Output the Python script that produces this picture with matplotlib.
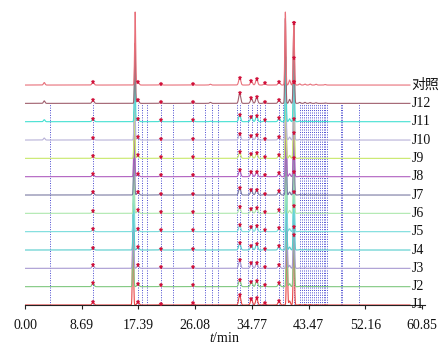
import numpy as np
import matplotlib
matplotlib.use("Agg")
import matplotlib.pyplot as plt

plt.rcParams['font.family'] = ['Liberation Serif', 'Noto Sans CJK SC']
plt.rcParams['mathtext.fontset'] = 'custom'
plt.rcParams['mathtext.rm'] = 'Liberation Serif'
plt.rcParams['mathtext.it'] = 'Liberation Serif:italic'

# Samples, bottom to top
labels = ['J1', 'J2', 'J3', 'J4', 'J5', 'J6', 'J7', 'J8', 'J9', 'J10', 'J11', 'J12', '对照']
colors = ['#e84545', '#80c880', '#a89ad2', '#55cccc', '#78dcdc', '#aee8ae',
          '#7a7aa2', '#b060c0', '#c8e86a', '#b8b2d8', '#44e0d2', '#a0606e', '#e8707a']

# Common (marked) peaks: retention time (min) and height per sample
marked_rt = [10.42, 17.32, 20.80, 25.75, 32.90, 34.70, 35.50, 36.75, 38.93, 41.20]
marked_heights = [
    [3.0, 3.5, 1.5, 2.0, 10.0, 6.0, 7.0, 2.0, 4.0, 70],
    [4.0, 3.0, 1.5, 1.5, 7.0, 5.0, 6.0, 1.5, 3.5, 60],
    [3.0, 3.0, 1.5, 1.5, 8.0, 5.0, 5.5, 1.5, 3.5, 62],
    [2.5, 3.0, 1.5, 1.5, 7.0, 4.5, 6.0, 1.5, 4.0, 58],
    [2.5, 3.0, 1.5, 1.5, 6.5, 4.5, 5.5, 1.5, 3.5, 60],
    [2.5, 3.0, 1.5, 1.5, 6.0, 4.0, 5.0, 1.5, 3.5, 55],
    [3.0, 3.0, 1.5, 1.5, 7.5, 5.0, 5.5, 1.5, 4.0, 62],
    [2.5, 3.0, 1.5, 1.5, 6.5, 4.5, 5.0, 1.5, 3.5, 58],
    [2.5, 3.0, 1.5, 1.5, 6.0, 4.0, 5.0, 1.5, 3.5, 76],
    [2.5, 3.0, 1.5, 1.5, 6.5, 4.5, 5.0, 1.5, 3.5, 58],
    [3.0, 3.0, 1.5, 1.5, 7.0, 5.0, 5.5, 1.5, 3.5, 64],
    [3.0, 3.0, 1.5, 1.5, 10.0, 5.0, 6.0, 1.5, 3.5, 80],
    [3.0, 3.0, 1.5, 1.5, 7.5, 4.0, 6.0, 2.0, 3.0, 62],
]

# Two dominant peaks (retention time drifts slightly between samples)
peak_a_rt = [16.55, 16.58, 16.60, 16.63, 16.66, 16.69, 16.72, 16.75, 16.78, 16.80, 16.83, 16.86, 16.88]
peak_a_h = [90, 60, 65, 55, 60, 55, 60, 65, 50, 60, 55, 60, 73]
peak_b_rt = [40.15, 40.10, 40.10, 40.05, 40.05, 40.00, 40.00, 40.00, 39.95, 39.95, 39.95, 39.90, 39.90]
peak_b_h = [85, 70, 75, 70, 80, 70, 75, 70, 65, 70, 65, 85, 73]

# Minor unassigned bumps
minor_rt = [2.95, 28.40, 40.55, 42.10, 42.90, 43.70, 44.60, 46.00]
minor_h = [
    [0.0, 0.0, 4.0, 0.5, 0.5, 0.5, 0.3, 0.3],
    [0.0, 0.0, 3.0, 0.5, 0.5, 0.3, 0.3, 0.3],
    [0.0, 0.0, 3.0, 0.5, 0.5, 0.3, 0.3, 0.3],
    [0.0, 0.0, 3.0, 0.5, 0.5, 0.3, 0.3, 0.3],
    [0.0, 0.0, 3.0, 0.5, 0.5, 0.3, 0.3, 0.3],
    [0.0, 0.0, 3.0, 0.5, 0.5, 0.3, 0.3, 0.3],
    [0.0, 0.0, 3.0, 0.5, 0.5, 0.3, 0.3, 0.3],
    [0.0, 0.0, 3.0, 0.5, 0.5, 0.3, 0.3, 0.3],
    [0.0, 0.0, 3.0, 0.5, 0.5, 0.3, 0.3, 0.3],
    [2.0, 0.5, 3.0, 0.6, 0.6, 0.4, 0.4, 0.3],
    [2.0, 0.5, 3.0, 0.6, 0.6, 0.4, 0.4, 0.3],
    [2.5, 1.0, 4.0, 1.0, 1.0, 0.8, 0.6, 0.4],
    [2.5, 0.8, 5.0, 1.2, 1.0, 1.0, 0.8, 0.5],
]

# Reference retention times (dotted guide lines)
ref_rt = [3.83, 10.42, 17.32, 17.93, 18.70, 20.85, 22.69, 25.75, 27.59, 28.66,
          29.58, 32.50, 32.95, 34.18, 34.79, 35.56, 36.02, 36.79, 38.93, 39.55,
          41.23, 42.15, 42.45, 42.75, 43.05, 43.35, 43.65, 43.95, 44.25, 44.55,
          44.85, 45.15, 45.45, 45.75, 46.05, 46.30, 48.40, 48.55, 51.20]

xticks = [0.00, 8.69, 17.39, 26.08, 34.77, 43.47, 52.16, 60.85]
offset_step = 18.33
t_end = 59.0

t = np.arange(0.0, t_end, 0.01)


def peak(center, height, sigma):
    return height * np.exp(-0.5 * ((t - center) / sigma) ** 2)


fig = plt.figure(figsize=(4.47, 3.5), dpi=100)
ax = fig.add_axes([25 / 447, 45 / 350, 400 / 447, 305 / 350])

for i, lab in enumerate(labels):
    base = i * offset_step
    y = np.zeros_like(t)
    for rt, h in zip(marked_rt, marked_heights[i]):
        y += peak(rt, h, 0.09 if h > 20 else 0.15)
    y += peak(peak_a_rt[i], peak_a_h[i], 0.08)
    y += peak(peak_b_rt[i], peak_b_h[i], 0.08)
    for rt, h in zip(minor_rt, minor_h[i]):
        y += peak(rt, h, 0.12)
    ax.plot(t, base + y, color=colors[i], lw=0.8, zorder=2 + i * 0.01)
    tops = np.interp(marked_rt, t, y) + base
    ax.plot(marked_rt, tops, linestyle='none', marker='*', ms=3.6,
            color='#d0103a', markeredgewidth=0.2, zorder=3)
    ax.text(t_end + 0.25, base, lab, fontsize=10, va='center', ha='left',
            clip_on=False, color='#111111')

ax.vlines(ref_rt, 0, 11 * offset_step, colors='#4848d0', linestyles=(0, (1, 1.5)),
          lw=0.7, zorder=1.5)

ax.set_xlim(0, 61.3)
ax.set_ylim(0, 305)
for side in ['top', 'right', 'left']:
    ax.spines[side].set_visible(False)
ax.spines['bottom'].set_color('#222222')
ax.spines['bottom'].set_linewidth(0.8)
ax.spines['bottom'].set_zorder(2.5)
ax.set_yticks([])
ax.set_xticks(xticks)
ax.set_xticklabels([f'{v:.2f}' for v in xticks])
ax.tick_params(axis='x', direction='out', length=3, width=0.8, labelsize=10,
               pad=7, colors='#222222', labelcolor='#111111')
ax.patch.set_visible(False)

fig.text(225 / 447, 1 - 338 / 350, '$t$/min', ha='center', va='center',
         fontsize=10, color='#111111')

fig.savefig('out.png', dpi=100)
